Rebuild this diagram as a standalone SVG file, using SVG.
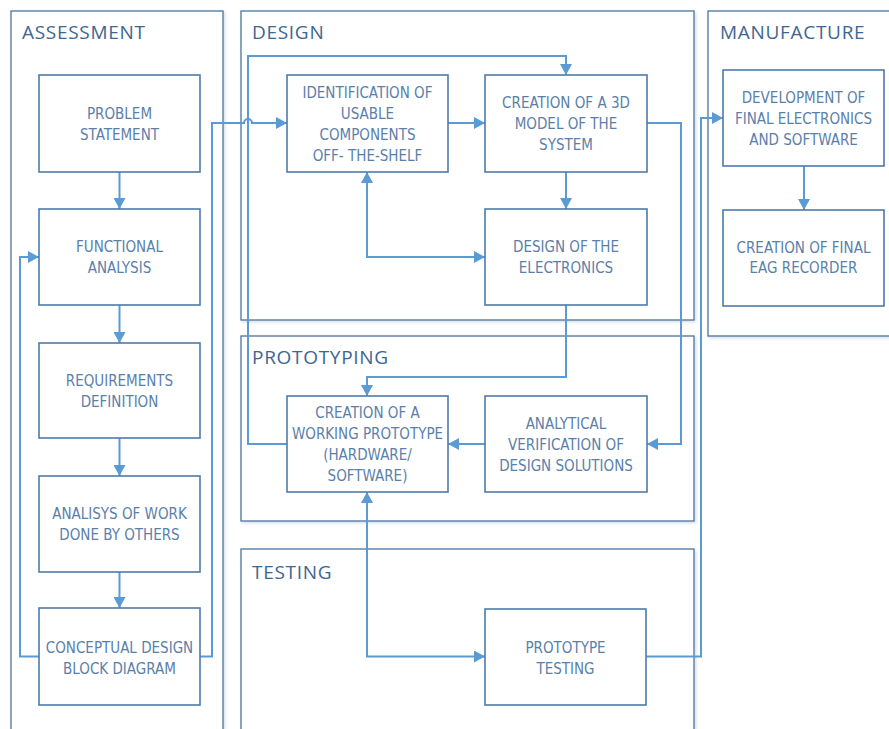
<svg xmlns="http://www.w3.org/2000/svg" width="889" height="729" viewBox="0 0 889 729">
  <style>
    .panel { fill: #ffffff; stroke: #4a74a0; stroke-width: 1.3; filter: url(#shadow); }
    .title { font-family: "Open Sans", "Lato", "Liberation Sans", sans-serif; font-size: 19px; fill: #3d6691; letter-spacing: 0.7px; }
    .box { fill: #ffffff; stroke: #4f7aa8; stroke-width: 1.6; }
    .lbl { font-family: "Liberation Sans Narrow", "DejaVu Sans Condensed", "Liberation Sans", sans-serif; font-stretch: condensed; font-size: 15px; fill: #5a80aa; text-anchor: middle; dominant-baseline: central; }
    .wire { fill: none; stroke: #5b9bd5; stroke-width: 2; }
  </style>
  <defs>
    <filter id="shadow" x="-5%" y="-5%" width="112%" height="112%">
      <feDropShadow dx="1.5" dy="1.5" stdDeviation="1.5" flood-color="#9fb3c8" flood-opacity="0.45"/>
    </filter>
    <marker id="ah" markerWidth="11" markerHeight="12" refX="11" refY="6" orient="auto-start-reverse" markerUnits="userSpaceOnUse">
      <path d="M0,0 L11,6 L0,12 z" fill="#5b9bd5"/>
    </marker>
  </defs>
  <rect width="889" height="729" fill="#ffffff"/>

  <!-- stage panels -->
  <g id="panel-assessment">
    <rect class="panel" x="11" y="11" width="212" height="740"/>
    <text class="title" x="22" y="39">ASSESSMENT</text>
  </g>
  <g id="panel-design">
    <rect class="panel" x="241" y="11" width="453" height="309"/>
    <text class="title" x="252" y="39">DESIGN</text>
  </g>
  <g id="panel-prototyping">
    <rect class="panel" x="241" y="336" width="453" height="185"/>
    <text class="title" x="252" y="364">PROTOTYPING</text>
  </g>
  <g id="panel-testing">
    <rect class="panel" x="241" y="549" width="453" height="200"/>
    <text class="title" x="252" y="579">TESTING</text>
  </g>
  <g id="panel-manufacture">
    <rect class="panel" x="708" y="11" width="200" height="325"/>
    <text class="title" x="720" y="39">MANUFACTURE</text>
  </g>

  <!-- connectors -->
  <g id="connectors">
    <path class="wire" d="M119.5,172 V209" marker-end="url(#ah)"/>
    <path class="wire" d="M119.5,305 V343" marker-end="url(#ah)"/>
    <path class="wire" d="M119.5,438 V476" marker-end="url(#ah)"/>
    <path class="wire" d="M119.5,572 V608" marker-end="url(#ah)"/>
    <path class="wire" d="M39,656.5 H20 V257 H39" marker-end="url(#ah)"/>
    <path class="wire" d="M200,656.5 H212 V123 H244 A4,4 0 0 1 252,123 H287" marker-end="url(#ah)"/>
    <path class="wire" d="M287,444 H248 V56 H566 V75" marker-end="url(#ah)"/>
    <path class="wire" d="M448,123 H485" marker-end="url(#ah)"/>
    <path class="wire" d="M566,172 V209" marker-end="url(#ah)"/>
    <path class="wire" d="M367,172 V257 H485" marker-start="url(#ah)" marker-end="url(#ah)"/>
    <path class="wire" d="M647,123 H681 V444 H647" marker-end="url(#ah)"/>
    <path class="wire" d="M566,305 V377 H367 V396" marker-end="url(#ah)"/>
    <path class="wire" d="M485,444 H448" marker-end="url(#ah)"/>
    <path class="wire" d="M367,492 V656.5 H485" marker-start="url(#ah)" marker-end="url(#ah)"/>
    <path class="wire" d="M646,656.5 H701 V118 H723" marker-end="url(#ah)"/>
    <path class="wire" d="M804,166 V210" marker-end="url(#ah)"/>
  </g>

  <!-- assessment steps -->
  <g id="problem-statement">
    <rect class="box" x="39" y="75" width="161" height="97"/>
    <text class="lbl" x="119.5" y="114">PROBLEM</text>
    <text class="lbl" x="119.5" y="135">STATEMENT</text>
  </g>
  <g id="functional-analysis">
    <rect class="box" x="39" y="209" width="161" height="96"/>
    <text class="lbl" x="119.5" y="247">FUNCTIONAL</text>
    <text class="lbl" x="119.5" y="268">ANALYSIS</text>
  </g>
  <g id="requirements-definition">
    <rect class="box" x="39" y="343" width="161" height="95"/>
    <text class="lbl" x="119.5" y="381">REQUIREMENTS</text>
    <text class="lbl" x="119.5" y="402">DEFINITION</text>
  </g>
  <g id="analysis-of-work">
    <rect class="box" x="39" y="476" width="161" height="96"/>
    <text class="lbl" x="119.5" y="514">ANALISYS OF WORK</text>
    <text class="lbl" x="119.5" y="535">DONE BY OTHERS</text>
  </g>
  <g id="conceptual-design">
    <rect class="box" x="39" y="608" width="161" height="97"/>
    <text class="lbl" x="119.5" y="648">CONCEPTUAL DESIGN</text>
    <text class="lbl" x="119.5" y="669">BLOCK DIAGRAM</text>
  </g>

  <!-- design steps -->
  <g id="identification">
    <rect class="box" x="287" y="75" width="161" height="97"/>
    <text class="lbl" x="367.5" y="93">IDENTIFICATION OF</text>
    <text class="lbl" x="367.5" y="114">USABLE</text>
    <text class="lbl" x="367.5" y="135">COMPONENTS</text>
    <text class="lbl" x="367.5" y="156">OFF- THE-SHELF</text>
  </g>
  <g id="model-3d">
    <rect class="box" x="485" y="75" width="162" height="97"/>
    <text class="lbl" x="566" y="103">CREATION OF A 3D</text>
    <text class="lbl" x="566" y="124">MODEL OF THE</text>
    <text class="lbl" x="566" y="145">SYSTEM</text>
  </g>
  <g id="electronics-design">
    <rect class="box" x="485" y="209" width="162" height="96"/>
    <text class="lbl" x="566" y="247">DESIGN OF THE</text>
    <text class="lbl" x="566" y="268">ELECTRONICS</text>
  </g>

  <!-- prototyping steps -->
  <g id="working-prototype">
    <rect class="box" x="287" y="396" width="161" height="96"/>
    <text class="lbl" x="367.5" y="413">CREATION OF A</text>
    <text class="lbl" x="367.5" y="434">WORKING PROTOTYPE</text>
    <text class="lbl" x="367.5" y="455">(HARDWARE/</text>
    <text class="lbl" x="367.5" y="476">SOFTWARE)</text>
  </g>
  <g id="analytical-verification">
    <rect class="box" x="485" y="396" width="162" height="96"/>
    <text class="lbl" x="566" y="424">ANALYTICAL</text>
    <text class="lbl" x="566" y="445">VERIFICATION OF</text>
    <text class="lbl" x="566" y="466">DESIGN SOLUTIONS</text>
  </g>

  <!-- testing step -->
  <g id="prototype-testing">
    <rect class="box" x="485" y="609" width="161" height="96"/>
    <text class="lbl" x="565.5" y="648">PROTOTYPE</text>
    <text class="lbl" x="565.5" y="669">TESTING</text>
  </g>

  <!-- manufacture steps -->
  <g id="final-electronics">
    <rect class="box" x="723" y="70" width="161" height="96"/>
    <text class="lbl" x="803.5" y="98">DEVELOPMENT OF</text>
    <text class="lbl" x="803.5" y="119">FINAL ELECTRONICS</text>
    <text class="lbl" x="803.5" y="140">AND SOFTWARE</text>
  </g>
  <g id="final-recorder">
    <rect class="box" x="723" y="210" width="161" height="96"/>
    <text class="lbl" x="803.5" y="248">CREATION OF FINAL</text>
    <text class="lbl" x="803.5" y="268">EAG RECORDER</text>
  </g>
</svg>
